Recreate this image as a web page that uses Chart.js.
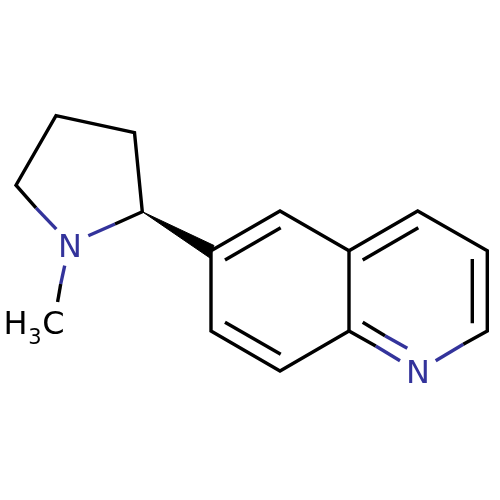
<!DOCTYPE html>
<html>
<head>
<meta charset="utf-8">
<title>Molecule</title>
<script src="https://cdn.jsdelivr.net/npm/chart.js@4"></script>
<style>
  html, body { margin: 0; padding: 0; background: #fff; }
  canvas { display: block; }
</style>
</head>
<body>
<canvas id="molecule" width="500" height="500"></canvas>
<script>
// bonds as x / y lists
const pyrrolidineX = [36, 16, 56, 134.5, 142.3, 115];
const pyrrolidineY = [207.8, 185.2, 115.7, 132.6, 211.7, 224];
const quinolineX = [463.3, 487.3, 487.3, 417.7, 349, 280, 211, 211, 280, 349, 375.7];
const quinolineY = [344.3, 331, 250.7, 211, 250.7, 211, 250.7, 331, 371, 331, 346];
const fusionX = [349, 349];
const fusionY = [250.7, 331];
const methylX = [60.7, 57.6];
const methylY = [284, 302];
const inner1X = [225, 280.7];
const inner1Y = [260, 227.7];
const inner2X = [362.7, 418.3];
const inner2Y = [260, 227.7];
const inner3X = [472.3, 472.3];
const inner3Y = [259, 323.3];
const inner4X = [225, 280.7];
const inner4Y = [322.3, 354.3];
const inner5X = [362.7, 385];
const inner5Y = [322.3, 335.7];

const nBond1X = [36, 56.3];
const nBond1Y = [207.8, 229.2];
const nBond2X = [115, 88.3];
const nBond2Y = [224, 235.7];
const nBond3X = [64.7, 60.7];
const nBond3Y = [265.7, 284];
const nBond4X = [375.7, 400];
const nBond4Y = [346, 360.7];
const nBond5X = [385, 407.3];
const nBond5Y = [335.7, 348.3];
const nBond6X = [463.3, 435.7];
const nBond6Y = [344.3, 360.7];

const wedgeX = [142.3, 214, 210, 142.3];
const wedgeY = [211.7, 245.5, 258, 211.7];

const labelText = ['N', 'N', 'H', '3', 'C'];
const labelX = [70, 418, 15.5, 35, 53.5];
const labelY = [257, 382.5, 333.5, 344, 333.5];
const labelBlue = [true, true, false, false, false];
const labelSmall = [false, false, false, true, false];

const BLACK = '#000000';
const BLUE = '#33339b';

const toPoints = (xs, ys) => xs.map((x, i) => ({ x: x, y: ys[i] }));
const bond = (xs, ys, color) => ({
  data: toPoints(xs, ys),
  borderColor: color,
  borderWidth: 3.4,
  borderCapStyle: 'butt',
  borderJoinStyle: 'miter',
  showLine: true,
  pointRadius: 0,
  fill: false,
  tension: 0
});

const atomLabels = {
  id: 'atomLabels',
  afterDatasetsDraw(chart) {
    const ctx = chart.ctx;
    ctx.save();
    ctx.textAlign = 'center';
    ctx.textBaseline = 'alphabetic';
    labelText.forEach((t, i) => {
      ctx.font = (labelSmall[i] ? 21 : 32) + 'px "DejaVu Sans"';
      ctx.fillStyle = labelBlue[i] ? BLUE : BLACK;
      ctx.fillText(t, chart.scales.x.getPixelForValue(labelX[i]), chart.scales.y.getPixelForValue(labelY[i]));
    });
    ctx.restore();
  }
};

new Chart(document.getElementById('molecule').getContext('2d'), {
  type: 'scatter',
  data: {
    datasets: [
      bond(pyrrolidineX, pyrrolidineY, BLACK),
      bond(quinolineX, quinolineY, BLACK),
      bond(fusionX, fusionY, BLACK),
      bond(methylX, methylY, BLACK),
      bond(inner1X, inner1Y, BLACK),
      bond(inner2X, inner2Y, BLACK),
      bond(inner3X, inner3Y, BLACK),
      bond(inner4X, inner4Y, BLACK),
      bond(inner5X, inner5Y, BLACK),
      bond(nBond1X, nBond1Y, BLUE),
      bond(nBond2X, nBond2Y, BLUE),
      bond(nBond3X, nBond3Y, BLUE),
      bond(nBond4X, nBond4Y, BLUE),
      bond(nBond5X, nBond5Y, BLUE),
      bond(nBond6X, nBond6Y, BLUE),
      {
        data: toPoints(wedgeX, wedgeY),
        borderColor: BLACK,
        backgroundColor: BLACK,
        borderWidth: 1,
        showLine: true,
        pointRadius: 0,
        fill: 'shape'
      }
    ]
  },
  options: {
    responsive: false,
    animation: false,
    layout: { padding: 0 },
    plugins: { legend: { display: false }, tooltip: { enabled: false } },
    scales: {
      x: { type: 'linear', min: 0, max: 500, display: false },
      y: { type: 'linear', min: 0, max: 500, reverse: true, display: false }
    }
  },
  plugins: [atomLabels]
});
</script>
</body>
</html>
